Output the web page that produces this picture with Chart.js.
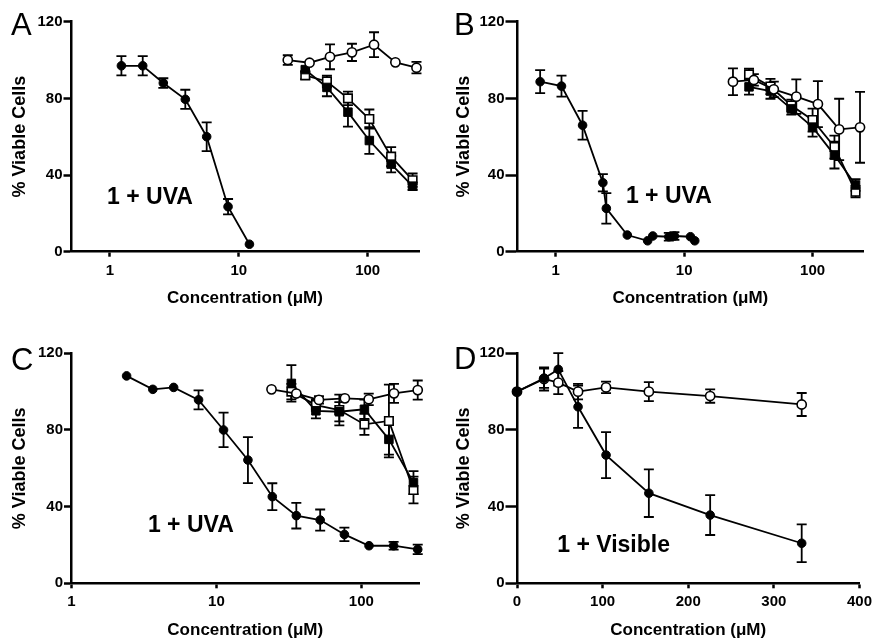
<!DOCTYPE html>
<html>
<head>
<meta charset="utf-8">
<script src="https://cdn.jsdelivr.net/npm/chart.js@4.4.1/dist/chart.umd.min.js"></script>
<style>
  body { margin: 0; background: #fff; }
  #wrap { position: relative; width: 877px; height: 639px; overflow: hidden; }
  canvas { position: absolute; }
</style>
</head>
<body>
<div id="wrap">
  <canvas id="chartA" width="438" height="315" style="left:0;top:0"></canvas>
  <canvas id="chartB" width="439" height="315" style="left:438px;top:0"></canvas>
  <canvas id="chartC" width="438" height="324" style="left:0;top:315px"></canvas>
  <canvas id="chartD" width="439" height="324" style="left:438px;top:315px"></canvas>
</div>
<script>
// tick labels
const logTicks = [1, 10, 100];
const linTicks = [0, 100, 200, 300, 400];
const yTicks = [0, 40, 80, 120];

// Panel A (1 + UVA)
const aCircX = [1.23, 1.8, 2.6, 3.85, 5.64, 8.26, 12.1];
const aCircY = [97, 97, 88, 79.5, 60, 23.5, 3.9];
const aCircErr = [5, 5, 2.5, 5, 7.5, 4, 0];
const aOpenX = [24, 35.4, 51, 75.5, 112, 164, 239];
const aOpenY = [100, 98.6, 101.7, 104, 108, 98.8, 96];
const aOpenErr = [2.5, 0, 6.5, 4.5, 6.5, 0, 3];
const aSqX = [32.8, 48.3, 70.3, 103, 152, 223];
const aSqFillY = [95, 85.7, 72.8, 58, 45.7, 34.2];
const aSqFillErr = [0, 4.6, 7.5, 7, 4.3, 2];
const aSqOpenY = [92, 88.8, 80, 69.2, 49.6, 37.3];
const aSqOpenErr = [2, 3, 3.5, 5, 5, 3.5];

// Panel B (1 + UVA)
const bCircX = [0.757, 1.11, 1.62, 2.33, 2.48, 3.61, 5.2, 5.7, 7.6, 8.4, 11.2, 12.1];
const bCircY = [88.7, 86.4, 66, 36, 22.6, 8.7, 5.7, 8.2, 7.8, 8.2, 7.8, 5.7];
const bCircErr = [6, 5.5, 7.5, 4.5, 8, 0, 0, 0, 2, 2, 0, 0];
const bOpenX = [24, 34.9, 49.9, 74.7, 110, 161, 234];
const bOpenY = [88.7, 89.6, 84.7, 80.9, 77, 63.8, 64.9];
const bOpenErr = [7, 3, 4, 9, 12, 16, 18.5];
const bSqX = [32, 47, 68.3, 100, 148, 216];
const bSqFillY = [86, 83.8, 74.5, 65, 50.4, 34.8];
const bSqFillErr = [4, 4, 3, 5, 7, 3];
const bSqOpenY = [92.5, 86.2, 76.3, 68.7, 54.6, 31.3];
const bSqOpenErr = [3, 4, 3, 6, 6, 3];

// Panel C (1 + UVA)
const cCircX = [2.4, 3.64, 5.07, 7.53, 11.2, 16.5, 24.3, 35.6, 52, 76.4, 113, 167, 245];
const cCircY = [108.2, 101.2, 102.2, 95.7, 80, 64.3, 45.2, 35.3, 33, 25.5, 19.6, 19.6, 17.7];
const cCircErr = [0, 0, 0, 5, 9, 12, 7, 6.7, 5.5, 3.5, 0, 2, 2.5];
const cOpenX = [24, 35.6, 51, 77, 112.5, 168, 245];
const cOpenY = [101.2, 99, 95.7, 96.5, 96, 99.1, 100.8];
const cOpenErr = [0, 0, 2, 0, 3, 5, 5];
const cSqX = [32.9, 48.6, 70.5, 105, 155, 229];
const cSqFillY = [104.3, 90, 89.5, 90.8, 75.1, 52.5];
const cSqFillErr = [9.5, 4, 5, 5, 8, 6];
const cSqOpenY = [100, 93, 90.4, 82.9, 84.7, 48.7];
const cSqOpenErr = [4, 3, 8, 5.5, 19, 7];

// Panel D (1 + Visible)
const dX = [0, 31.6, 48.2, 71.3, 104, 154, 225.6, 332.5];
const dOpenY = [100, 106.6, 104.7, 100, 102.2, 100, 97.7, 93.3];
const dOpenErr = [0, 6, 6, 4, 3, 5, 3.5, 6];
const dCircY = [100, 107, 111.6, 92.1, 66.9, 47, 35.6, 20.9];
const dCircErr = [0, 5, 8.5, 11, 12, 12.4, 10.4, 9.8];

const FONT = '"Liberation Sans", Arial, Helvetica, sans-serif';

const markers = {
  circ: { pointStyle: 'circle', pointRadius: 4.3, pointBackgroundColor: '#000', pointBorderWidth: 1 },
  open: { pointStyle: 'circle', pointRadius: 4.6, pointBackgroundColor: '#fff', pointBorderWidth: 1.6 },
  sqFill: { pointStyle: 'rect', pointRadius: 6, pointBackgroundColor: '#000', pointBorderWidth: 1 },
  sqOpen: { pointStyle: 'rect', pointRadius: 6, pointBackgroundColor: '#fff', pointBorderWidth: 1.6 }
};

function series(xs, ys, errs, kind) {
  return Object.assign({
    data: xs.map((x, i) => ({ x: x, y: ys[i] })),
    errs: errs,
    showLine: true,
    borderColor: '#000',
    borderWidth: 1.8,
    pointBorderColor: '#000',
    pointHoverRadius: 0,
    clip: false
  }, markers[kind]);
}

// error bars drawn from the y scale
const errorBars = {
  id: 'errorBars',
  beforeDatasetsDraw(chart) {
    const ctx = chart.ctx;
    const ys = chart.scales.y;
    chart.data.datasets.forEach((ds, i) => {
      const meta = chart.getDatasetMeta(i);
      ctx.save();
      ctx.strokeStyle = '#000';
      ctx.lineWidth = 1.8;
      meta.data.forEach((pt, j) => {
        const e = ds.errs[j];
        if (!e) return;
        const v = ds.data[j].y;
        const t = ys.getPixelForValue(v + e);
        const b = ys.getPixelForValue(v - e);
        ctx.beginPath();
        ctx.moveTo(pt.x, t); ctx.lineTo(pt.x, b);
        ctx.moveTo(pt.x - 5, t); ctx.lineTo(pt.x + 5, t);
        ctx.moveTo(pt.x - 5, b); ctx.lineTo(pt.x + 5, b);
        ctx.stroke();
      });
      ctx.restore();
    });
  }
};

// panel letter + treatment label
const panelText = {
  id: 'panelText',
  afterDraw(chart, args, o) {
    const ctx = chart.ctx;
    ctx.save();
    ctx.fillStyle = '#000';
    ctx.font = '31px ' + FONT;
    ctx.textAlign = 'left';
    ctx.textBaseline = 'alphabetic';
    ctx.fillText(o.letter, o.letterX, o.letterY);
    ctx.font = 'bold 23px ' + FONT;
    ctx.textAlign = 'center';
    ctx.textBaseline = 'middle';
    ctx.fillText(o.label, chart.scales.x.getPixelForValue(o.labelX), chart.scales.y.getPixelForValue(o.labelY));
    ctx.restore();
  }
};

function makeChart(id, p) {
  const cv = document.getElementById(id);
  const W = cv.width, H = cv.height;
  new Chart(cv, {
    type: 'scatter',
    data: { datasets: p.datasets },
    plugins: [errorBars, panelText],
    options: {
      responsive: false,
      animation: false,
      events: [],
      layout: { padding: { left: 0, top: p.area.top, right: W - p.area.right, bottom: 0 } },
      plugins: {
        legend: { display: false },
        tooltip: { enabled: false },
        panelText: p.text
      },
      scales: {
        x: {
          type: p.xType,
          min: p.xMin,
          max: p.xMax,
          afterBuildTicks: s => { s.ticks = p.xTicks.map(v => ({ value: v })); },
          afterFit: s => { s.height = H - p.area.bottom; },
          border: { display: true, color: '#000', width: 2.5 },
          grid: { drawOnChartArea: false, drawTicks: true, tickLength: 5, tickWidth: 2.5, tickColor: '#000' },
          ticks: {
            color: '#000', padding: 5, maxRotation: 0, autoSkip: false,
            font: { family: FONT, size: 15, weight: 'bold' },
            callback: v => String(v)
          },
          title: {
            display: true, text: 'Concentration (\u03bcM)', color: '#000',
            font: { family: FONT, size: 17, weight: 'bold', lineHeight: 1 },
            padding: { top: 0, bottom: p.xTitlePad }
          }
        },
        y: {
          min: 0,
          max: 120,
          afterBuildTicks: s => { s.ticks = yTicks.map(v => ({ value: v })); },
          afterFit: s => { s.width = p.area.left; },
          border: { display: true, color: '#000', width: 2.5 },
          grid: { drawOnChartArea: false, drawTicks: true, tickLength: p.yTick, tickWidth: 2.5, tickColor: '#000' },
          ticks: {
            color: '#000', padding: 1,
            font: { family: FONT, size: 15, weight: 'bold' }
          },
          title: {
            display: true, text: '% Viable Cells', color: '#000',
            font: { family: FONT, size: 18, weight: 'bold', lineHeight: 1 },
            padding: { top: p.yTitlePad, bottom: 0 }
          }
        }
      }
    }
  });
}

makeChart('chartA', {
  area: { left: 71, top: 21.7, right: 419, bottom: 251.7 },
  xType: 'logarithmic', xMin: 0.5, xMax: 250, xTicks: logTicks,
  xTitlePad: 8.5, yTitlePad: 11, yTick: 7.5,
  text: { letter: 'A', letterX: 11, letterY: 35, label: '1 + UVA', labelX: 2.05, labelY: 28 },
  datasets: [
    series(aCircX, aCircY, aCircErr, 'circ'),
    series(aOpenX, aOpenY, aOpenErr, 'open'),
    series(aSqX, aSqFillY, aSqFillErr, 'sqFill'),
    series(aSqX, aSqOpenY, aSqOpenErr, 'sqOpen')
  ]
});

makeChart('chartB', {
  area: { left: 79, top: 21.7, right: 425.7, bottom: 251.7 },
  xType: 'logarithmic', xMin: 0.5, xMax: 250, xTicks: logTicks,
  xTitlePad: 8.5, yTitlePad: 17, yTick: 11.5,
  text: { letter: 'B', letterX: 16, letterY: 35, label: '1 + UVA', labelX: 7.6, labelY: 28.7 },
  datasets: [
    series(bCircX, bCircY, bCircErr, 'circ'),
    series(bOpenX, bOpenY, bOpenErr, 'open'),
    series(bSqX, bSqFillY, bSqFillErr, 'sqFill'),
    series(bSqX, bSqOpenY, bSqOpenErr, 'sqOpen')
  ]
});

makeChart('chartC', {
  area: { left: 71.5, top: 38.3, right: 419, bottom: 268.3 },
  xType: 'logarithmic', xMin: 1, xMax: 250, xTicks: logTicks,
  xTitlePad: 0.5, yTitlePad: 11, yTick: 7.5,
  text: { letter: 'C', letterX: 11, letterY: 55, label: '1 + UVA', labelX: 6.66, labelY: 29.9 },
  datasets: [
    series(cCircX, cCircY, cCircErr, 'circ'),
    series(cOpenX, cOpenY, cOpenErr, 'open'),
    series(cSqX, cSqFillY, cSqFillErr, 'sqFill'),
    series(cSqX, cSqOpenY, cSqOpenErr, 'sqOpen')
  ]
});

makeChart('chartD', {
  area: { left: 79, top: 38.3, right: 424.7, bottom: 268.3 },
  xType: 'linear', xMin: 0, xMax: 400, xTicks: linTicks,
  xTitlePad: 0.5, yTitlePad: 17, yTick: 11.5,
  text: { letter: 'D', letterX: 16, letterY: 54, label: '1 + Visible', labelX: 112.8, labelY: 19.5 },
  datasets: [
    series(dX, dCircY, dCircErr, 'circ'),
    series(dX, dOpenY, dOpenErr, 'open')
  ]
});
</script>
</body>
</html>
